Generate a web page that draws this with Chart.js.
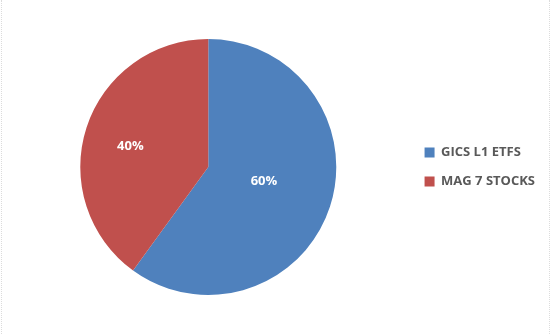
<!DOCTYPE html>
<html>
<head>
<meta charset="utf-8">
<script src="https://cdn.jsdelivr.net/npm/chart.js@4"></script>
<style>
  html, body { margin: 0; padding: 0; background: #fff; }
  #wrap { position: relative; width: 555px; height: 334px; }
  .edge { position: absolute; top: 0; height: 334px; border-left: 1px dotted #dcdcdc; }
</style>
</head>
<body>
<div id="wrap">
  <canvas id="pieChart" width="555" height="334"></canvas>
  <div class="edge" style="left:1px"></div>
  <div class="edge" style="left:549px"></div>
</div>
<script>
const categories = ['GICS L1 ETFS', 'MAG 7 STOCKS'];
const shares = [60, 40];
const sliceColors = ['#4F81BD', '#C0504D'];

// draws the "60%" style labels inside each slice
const sliceLabels = {
  id: 'sliceLabels',
  afterDatasetsDraw(chart, args, opts) {
    const ctx = chart.ctx;
    const meta = chart.getDatasetMeta(0);
    ctx.save();
    ctx.fillStyle = '#fff';
    ctx.font = 'bold 13px "Open Sans"';
    ctx.textAlign = 'center';
    ctx.textBaseline = 'middle';
    meta.data.forEach((arc, i) => {
      const p = arc.getProps(['x', 'y', 'startAngle', 'endAngle', 'outerRadius'], true);
      const mid = (p.startAngle + p.endAngle) / 2 + opts.turn;
      const r = p.outerRadius * opts.dist[i];
      ctx.fillText(shares[i] + '%', p.x + Math.cos(mid) * r, p.y + Math.sin(mid) * r);
    });
    ctx.restore();
  }
};

new Chart(document.getElementById('pieChart'), {
  type: 'pie',
  data: {
    labels: categories,
    datasets: [{
      data: shares,
      backgroundColor: sliceColors,
      borderWidth: 0
    }]
  },
  options: {
    responsive: false,
    animation: false,
    layout: { padding: { left: 8, top: 39, bottom: 39, right: 10 } },
    plugins: {
      tooltip: { enabled: false },
      sliceLabels: { dist: [0.45, 0.63], turn: -0.055 },
      legend: {
        position: 'right',
        labels: {
          boxWidth: 10,
          boxHeight: 10,
          padding: 16,
          color: '#595959',
          font: { family: '"Open Sans"', size: 13, weight: 'bold' }
        }
      }
    }
  },
  plugins: [sliceLabels]
});
</script>
</body>
</html>
